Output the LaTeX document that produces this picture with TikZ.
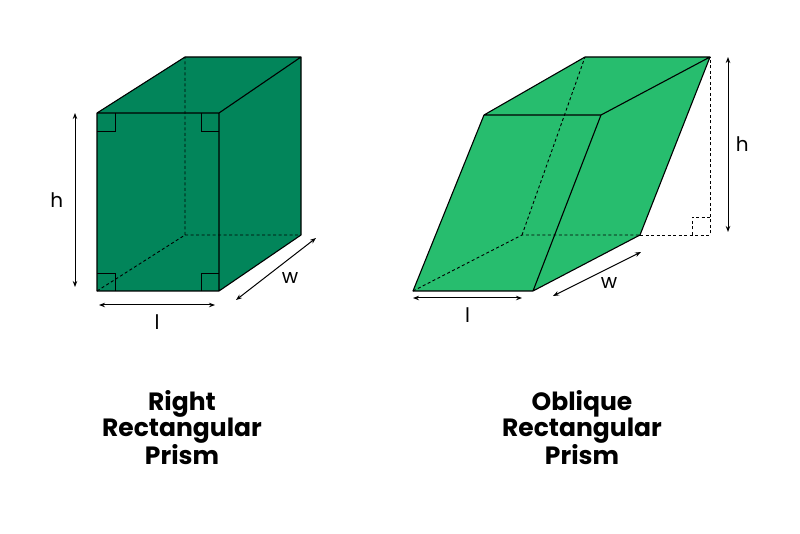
\documentclass[tikz,border=0pt]{standalone}
\usepackage{fontspec}
\setmainfont{Poppins}
\usetikzlibrary{arrows.meta,
                positioning
                }
\definecolor{darkgr}{HTML}{02855A}
\definecolor{lightgr}{HTML}{27BD6E}

\begin{document}
\begin{tikzpicture}[
    x=1pt, y=-1pt,
    edge/.style = {draw=black, line width=1.1pt, line join=round},
    hid/.style  = {black, line width=0.9pt, dash pattern=on 3pt off 2.5pt},
    dim/.style  = {black, line width=1pt, {Stealth[length=6pt]}-{Stealth[length=6pt]}},
    lbl/.style  = {font=\fontsize{20}{22}\selectfont},
    ttl/.style  = {align=center, font=\fontsize{25}{26}\selectfont\bfseries}
                    ]
\useasboundingbox (0,0) rectangle (800,534);
% right prism
\coordinate (a1) at (97,291);  \coordinate (a2) at (219,291);
\coordinate (a3) at (219,113); \coordinate (a4) at (97,113);
\coordinate (b1) at (185,235); \coordinate (b2) at (301,235);
\coordinate (b3) at (301,57);  \coordinate (b4) at (185,57);
\fill[darkgr] (a1) -- (a2) -- (b2) -- (b3) -- (b4) -- (a4) -- cycle;
\draw[hid] (a1) -- (b1) -- (b2) (b1) -- (b4);
\draw[edge] (a1) rectangle (a3) (a4) -- (b4) -- (b3) -- (a3) (b3) -- (b2) -- (a2);
\foreach \cx/\cy/\dx/\dy in {97/113/1/1, 219/113/-1/1, 97/291/1/-1, 219/291/-1/-1}
  \draw[line width=0.9pt] (\cx+18*\dx,\cy) -- (\cx+18*\dx,\cy+18*\dy) -- (\cx,\cy+18*\dy);
\draw[dim] (75,113) -- node[lbl, left=8pt] {h} (75,287);
\draw[dim] (99,305) -- node[lbl, below=6pt] {l} (215,305);
\draw[dim] (236,300) -- node[lbl, below right=0pt and 2pt] {w} (316,238);
\node[ttl] (t1) at (182,428) {Right\\Rectangular\\Prism};
% oblique prism
\coordinate (c1) at (413,291); \coordinate (c2) at (533,291);
\coordinate (c3) at (601,115); \coordinate (c4) at (484,115);
\coordinate (d1) at (522,235); \coordinate (d2) at (640,235);
\coordinate (d3) at (710,57);  \coordinate (d4) at (585,57);
\fill[lightgr] (c1) -- (c2) -- (d2) -- (d3) -- (d4) -- (c4) -- cycle;
\draw[hid] (c1) -- (d1) -- (d2) (d1) -- (d4);
\draw[hid, line width=0.7pt] (d2) -- (710,235) -- (d3) (692,235) -- (692,217) -- (710,217);
\draw[edge] (c1) -- (c2) -- (c3) -- (c4) -- cycle (c4) -- (d4) -- (d3) -- (c3) (d3) -- (d2) -- (c2);
\draw[dim] (728,57) -- node[lbl, right=4pt] {h} (728,232);
\draw[dim] (413,298) -- node[lbl, below=6pt] {l} (522,298);
\draw[dim] (553,296) -- node[lbl, below right=0pt and 0pt] {w} (641,252);
\node[ttl] (t2) at (582,428) {Oblique\\Rectangular\\Prism};
\end{tikzpicture}
\end{document}
